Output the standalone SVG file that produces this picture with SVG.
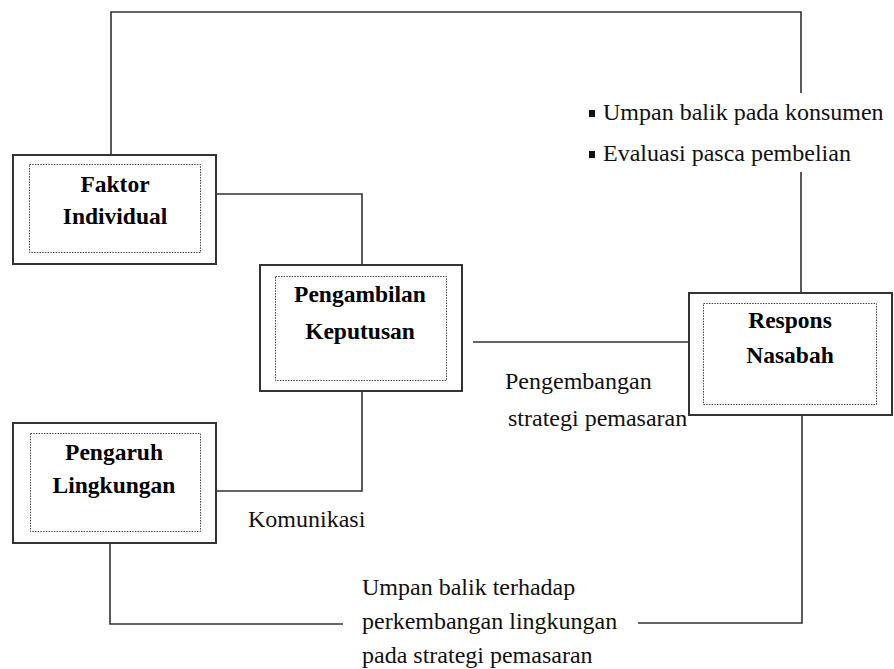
<svg xmlns="http://www.w3.org/2000/svg" width="894" height="669" viewBox="0 0 894 669">
<style>
.outer{fill:#fff;stroke:#333;stroke-width:2}
.inner{fill:none;stroke:#444;stroke-width:1;stroke-dasharray:1.5 1.2}
.lbl{font-family:'Liberation Serif','Times New Roman','DejaVu Serif',serif;font-weight:bold;font-size:23.5px;fill:#000;text-anchor:middle}
.txt{font-family:'Liberation Serif','Times New Roman','DejaVu Serif',serif;font-size:24px;fill:#111}
.con{fill:none;stroke:#333;stroke-width:1.6}
</style>
<rect width="894" height="669" fill="#fff"/>
<g id="connectors">
<polyline class="con" points="111,155 111,12 801,12 801,93"/>
<polyline class="con" points="801,172 801,293"/>
<polyline class="con" points="216,194 362,194 362,283"/>
<polyline class="con" points="362,391 362,491 216,491"/>
<line class="con" x1="473" y1="342" x2="689" y2="342"/>
<polyline class="con" points="110,543 110,624 343,624"/>
<polyline class="con" points="638,623 802,623 802,415"/>
</g>
<g id="faktor">
<rect class="outer" x="13" y="155" width="203" height="109"/>
<rect class="inner" x="29.5" y="164.5" width="171" height="88"/>
<text class="lbl" x="115" y="192">Faktor</text>
<text class="lbl" x="115" y="224">Individual</text>
</g>
<g id="pengambilan">
<rect class="outer" x="260" y="265" width="202" height="126"/>
<rect class="inner" x="275.5" y="276.5" width="171" height="104"/>
<text class="lbl" x="360" y="302">Pengambilan</text>
<text class="lbl" x="360" y="339">Keputusan</text>
</g>
<g id="pengaruh">
<rect class="outer" x="13" y="423" width="203" height="120"/>
<rect class="inner" x="30.5" y="433.5" width="170" height="98"/>
<text class="lbl" x="114" y="460">Pengaruh</text>
<text class="lbl" x="114" y="493">Lingkungan</text>
</g>
<g id="respons">
<rect class="outer" x="689" y="293" width="203" height="122"/>
<rect class="inner" x="703.5" y="303.5" width="173" height="101"/>
<text class="lbl" x="790" y="328">Respons</text>
<text class="lbl" x="790" y="363">Nasabah</text>
</g>
<g id="labels">
<rect x="589" y="110" width="6" height="7" fill="#111"/>
<text class="txt" x="603" y="120">Umpan balik pada konsumen</text>
<rect x="589" y="151" width="6" height="7" fill="#111"/>
<text class="txt" x="603" y="161">Evaluasi pasca pembelian</text>
<text class="txt" x="505" y="389">Pengembangan</text>
<text class="txt" x="508" y="426">strategi pemasaran</text>
<text class="txt" x="248" y="527">Komunikasi</text>
<text class="txt" x="362" y="595">Umpan balik terhadap</text>
<text class="txt" x="362" y="629">perkembangan lingkungan</text>
<text class="txt" x="362" y="663">pada strategi pemasaran</text>
</g>
</svg>
